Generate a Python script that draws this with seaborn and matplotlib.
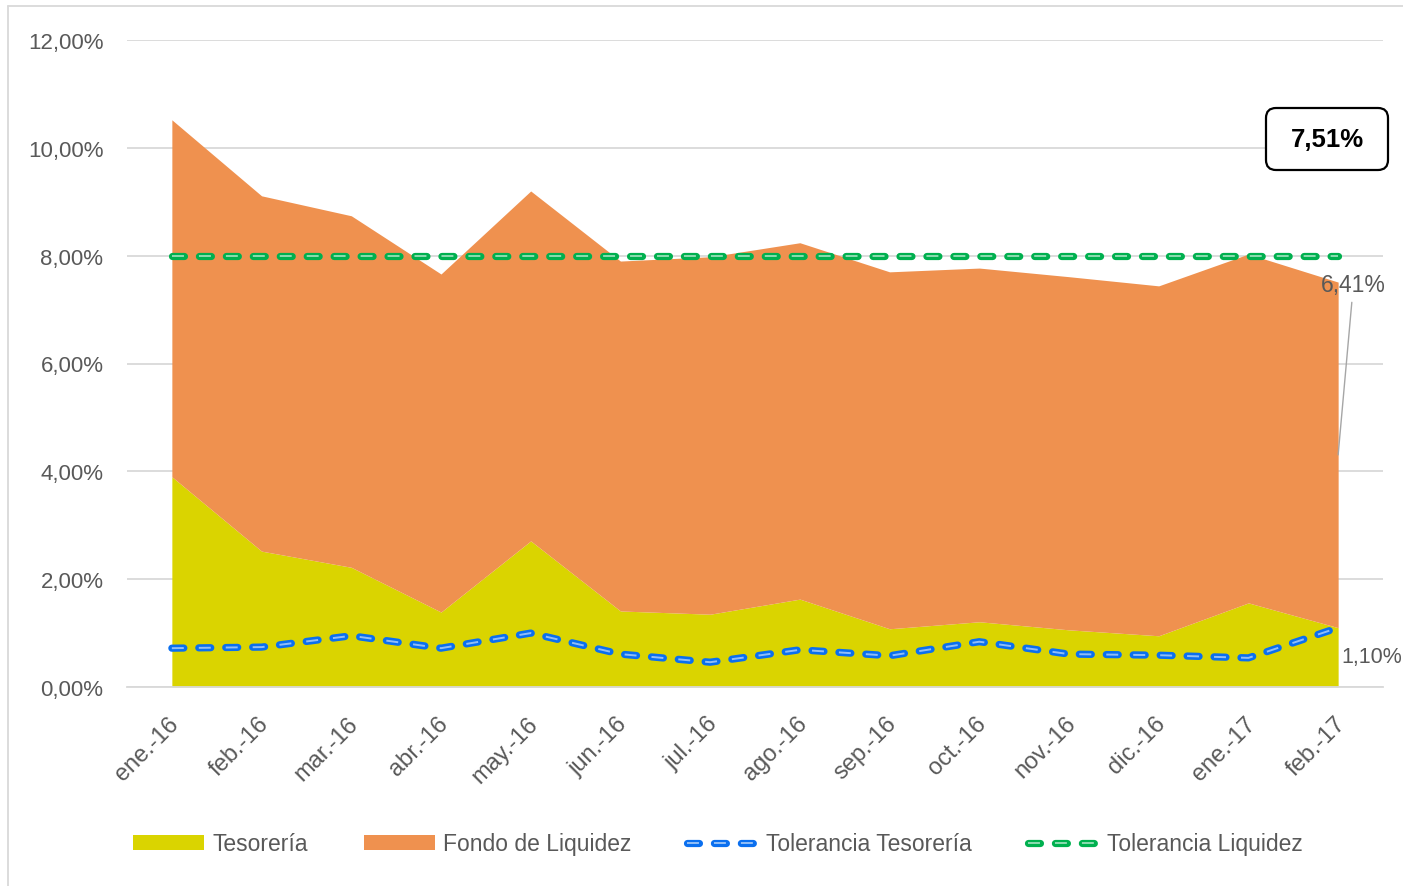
import numpy as np
import matplotlib
matplotlib.use("Agg")
from matplotlib import pyplot as plt
from matplotlib.patches import Patch, FancyBboxPatch
from matplotlib.lines import Line2D
from matplotlib.legend_handler import HandlerTuple
from matplotlib.ticker import FuncFormatter, FixedLocator
from matplotlib.transforms import ScaledTranslation
import seaborn as sns

# data (percent)
months = ['ene.-16', 'feb.-16', 'mar.-16', 'abr.-16', 'may.-16', 'jun.-16', 'jul.-16',
          'ago.-16', 'sep.-16', 'oct.-16', 'nov.-16', 'dic.-16', 'ene.-17', 'feb.-17']
tesoreria = [3.90, 2.52, 2.22, 1.39, 2.71, 1.41, 1.35, 1.63, 1.08, 1.21, 1.06, 0.95, 1.56, 1.10]
fondo_liquidez = [6.62, 6.59, 6.52, 6.27, 6.49, 6.49, 6.63, 6.61, 6.62, 6.56, 6.55, 6.49, 6.47, 6.41]
tol_tesoreria = [0.72, 0.74, 0.95, 0.72, 1.00, 0.61, 0.46, 0.69, 0.58, 0.84, 0.61, 0.59, 0.54, 1.10]
tol_liquidez = [8.00] * 14
y_ticks = [0, 2, 4, 6, 8, 10, 12]

YELLOW = '#DAD400'
ORANGE = '#EF914F'
BLUE = '#0A6FEF'
GREEN = '#00B04F'
GRID = '#D9D9D9'
TEXT = '#595959'

sns.set_theme(style="white")
plt.rcParams['font.family'] = ['Liberation Sans', 'DejaVu Sans']
plt.rcParams['lines.scale_dashes'] = False

fig = plt.figure(figsize=(14.03, 8.87), dpi=100)
ax = fig.add_axes([127 / 1403, 1 - 688 / 887, (1383 - 127) / 1403, (688 - 41) / 887])

x = np.arange(len(months))
tes = np.array(tesoreria)
total = tes + np.array(fondo_liquidez)

# stacked areas
ax.fill_between(x, 0, tes, color=YELLOW, lw=0, zorder=2)
ax.fill_between(x, tes, total, color=ORANGE, lw=0, zorder=2)

# tolerance lines: thick rounded dashes with a pale inner stripe
dash = (0, (8.6, 10.8))
for vals, col in [(tol_tesoreria, BLUE), (tol_liquidez, GREEN)]:
    sns.lineplot(x=x, y=vals, ax=ax, legend=False)
    outer = ax.lines[-1]
    outer.set(color=col, linewidth=5.2, linestyle=dash, dash_capstyle='round', zorder=4)
    sns.lineplot(x=x, y=vals, ax=ax, legend=False)
    inner = ax.lines[-1]
    inner.set(color='white', alpha=0.55, linewidth=1.4, linestyle=dash,
              dash_capstyle='butt', zorder=5)

ax.set_xlim(-0.5, len(months) - 0.5)
ax.set_ylim(0, 12)

# axes styling
for s in ['left', 'top', 'right']:
    ax.spines[s].set_visible(False)
ax.spines['bottom'].set_color(GRID)
ax.spines['bottom'].set_linewidth(1.3)
ax.set_yticks(y_ticks)
ax.yaxis.set_major_formatter(FuncFormatter(lambda v, p: f"{v:.2f}%".replace('.', ',')))
ax.tick_params(axis='y', length=0, pad=17, labelsize=16, labelcolor=TEXT)
ax.grid(axis='y', color=GRID, lw=1.3, zorder=0)
ax.set_axisbelow(True)

ax.set_xticks(x)
ax.set_xticklabels(months, rotation=45, ha='right', rotation_mode='anchor')
ax.tick_params(axis='x', length=0, pad=18, labelsize=17, labelcolor=TEXT)
shift = ScaledTranslation(-4 / 100, 0, fig.dpi_scale_trans)
for lab in ax.get_xticklabels():
    lab.set_transform(lab.get_transform() + shift)
ax.xaxis.set_minor_locator(FixedLocator(np.arange(-0.5, len(months), 1.0)))
ax.tick_params(axis='x', which='minor', length=7, width=1.3, color=GRID, direction='out')
ax.set_xlabel('')
ax.set_ylabel('')

# data labels
ax.annotate('6,41%', xy=(13.0, tes[-1] + fondo_liquidez[-1] / 2), xytext=(13.17, 7.46),
            ha='center', va='center', fontsize=16.5, color=TEXT,
            arrowprops=dict(arrowstyle='-', color='#A6A6A6', lw=1, shrinkA=2, shrinkB=0),
            zorder=6)
ax.annotate('1,10%', xy=(13, tol_tesoreria[-1]), xytext=(2, -21), textcoords='offset points',
            ha='left', va='center', fontsize=15.5, color=TEXT, annotation_clip=False, zorder=6)

# boxed total
box = FancyBboxPatch((12.66, (887 - 171) / 100), 1.22, 0.62,
                     boxstyle='round,pad=0,rounding_size=0.1',
                     transform=fig.dpi_scale_trans, facecolor='white',
                     edgecolor='black', lw=1.6, zorder=10)
fig.patches.append(box)
fig.text(1327 / 1403, 1 - 140 / 887, f"{total[-1]:.2f}%".replace('.', ','),
         ha='center', va='center', fontsize=18.5, fontweight='bold', color='black', zorder=11)

# outer frame
fig.add_artist(Line2D([8 / 1403, 1], [1 - 7 / 887] * 2, color=GRID, lw=1.3))
fig.add_artist(Line2D([8 / 1403] * 2, [0, 1 - 7 / 887], color=GRID, lw=1.3))

# legend
h_tes = Patch(facecolor=YELLOW, edgecolor='none')
h_fon = Patch(facecolor=ORANGE, edgecolor='none')
h_tt = (Line2D([], [], color=BLUE, lw=5.2, linestyle=dash, dash_capstyle='round'),
        Line2D([], [], color='white', alpha=0.55, lw=1.4, linestyle=dash))
h_tl = (Line2D([], [], color=GREEN, lw=5.2, linestyle=dash, dash_capstyle='round'),
        Line2D([], [], color='white', alpha=0.55, lw=1.4, linestyle=dash))
leg = fig.legend([h_tes, h_fon, h_tt, h_tl],
                 ['Tesorería', 'Fondo de Liquidez', 'Tolerancia Tesorería', 'Tolerancia Liquidez'],
                 handler_map={tuple: HandlerTuple(ndivide=1, pad=0)},
                 loc='center left', bbox_to_anchor=(133 / 1403, 1 - 845 / 887),
                 ncol=4, frameon=False, fontsize=16.5, borderpad=0, borderaxespad=0,
                 handlelength=3.1, handletextpad=0.35, columnspacing=2.45, handleheight=0.6)
for t in leg.get_texts():
    t.set_color(TEXT)

fig.savefig('out.png', dpi=100)
